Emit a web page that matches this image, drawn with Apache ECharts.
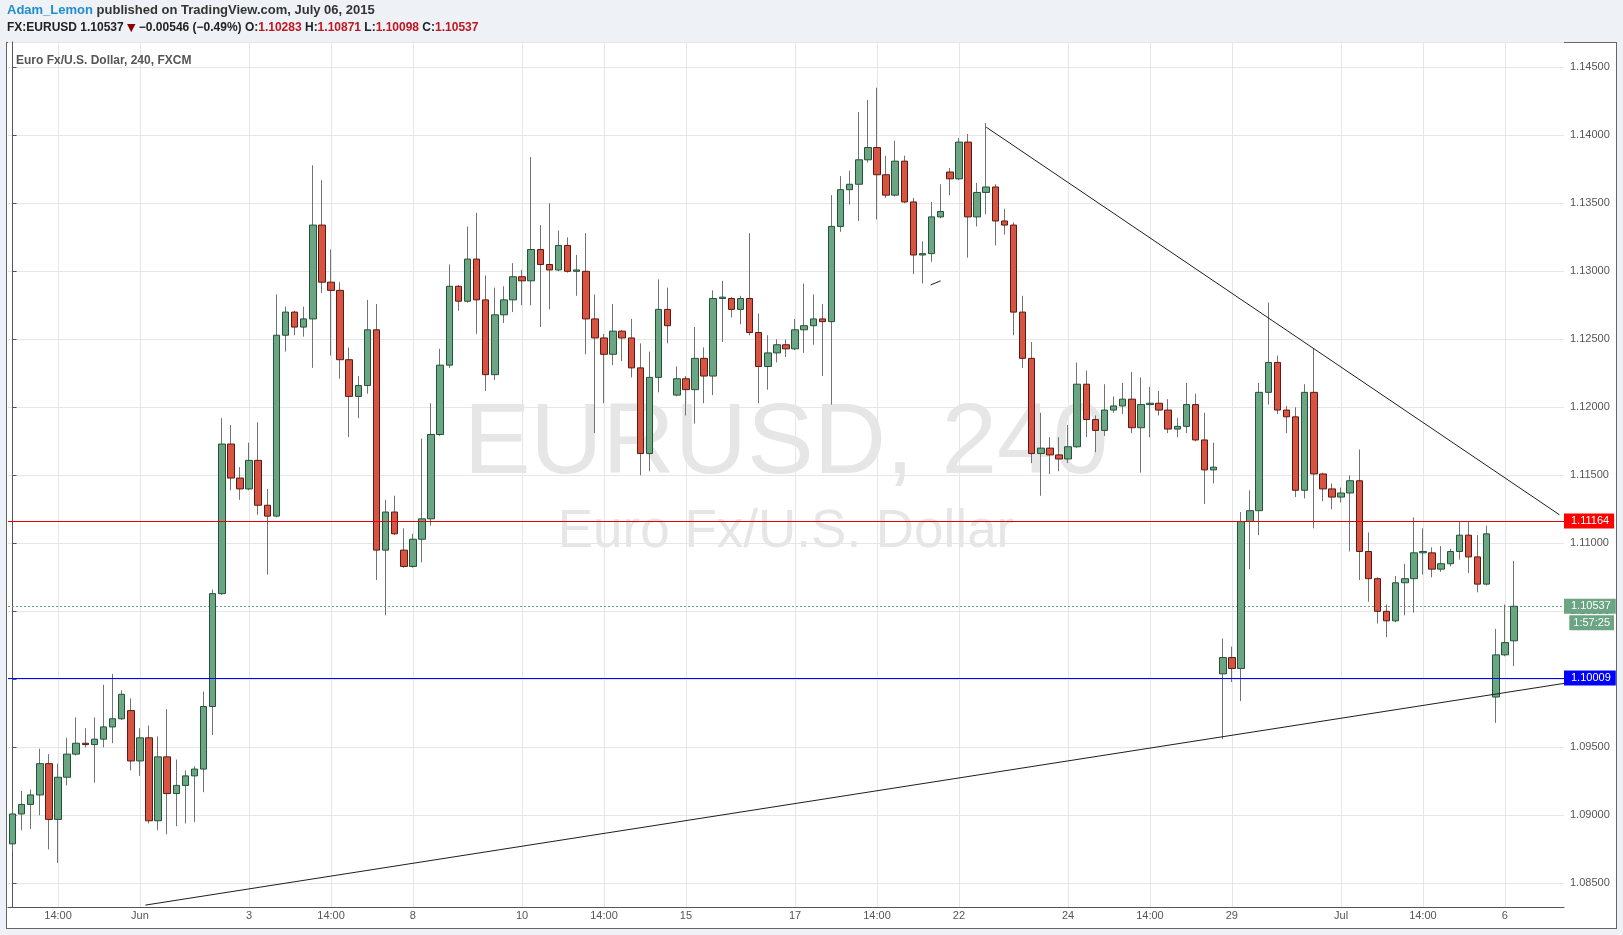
<!DOCTYPE html>
<html><head><meta charset="utf-8">
<script src="https://cdn.jsdelivr.net/npm/echarts@6/dist/echarts.min.js"></script>
<style>
html,body{margin:0;padding:0;background:#eef1f5;width:1623px;height:935px;overflow:hidden;}
#panel{position:absolute;left:6px;top:42px;width:1611px;height:887px;background:#fff;border:1px solid #666;box-sizing:border-box;}
#chart{position:absolute;left:0;top:0;width:1623px;height:935px;}
</style></head><body>
<div id="panel"></div>
<div id="chart"></div>
<script>
// ---- data: EUR/USD 4h candles (FXCM) ----
const opens = [
1.0879,1.0901,1.0908,1.0915,1.0938,1.0897,1.0928,1.0945,1.0953,1.0952,
1.0956,1.0965,1.0971,1.0977,1.0940,1.0957,1.0896,1.0943,1.0916,1.0922,
1.0929,1.0934,1.0980,1.1063,1.1173,1.1148,1.1140,1.1161,1.1128,1.1120,
1.1253,1.1270,1.1259,1.1265,1.1334,1.1292,1.1286,1.1235,1.1208,1.1216,
1.1257,1.1095,1.1123,1.1095,1.1083,1.1103,1.1118,1.1180,1.1231,1.1289,
1.1278,1.1309,1.1279,1.1224,1.1268,1.1279,1.1296,1.1293,1.1316,1.1305,
1.1301,1.1319,1.1300,1.1300,1.1265,1.1251,1.1239,1.1256,1.1251,1.1229,
1.1166,1.1222,1.1272,1.1209,1.1221,1.1213,1.1236,1.1223,1.1280,1.1280,
1.1272,1.1280,1.1255,1.1230,1.1240,1.1246,1.1243,1.1257,1.1260,1.1265,
1.1263,1.1333,1.1360,1.1364,1.1382,1.1391,1.1371,1.1356,1.1381,1.1351,
1.1312,1.1313,1.1340,1.1373,1.1368,1.1395,1.1340,1.1358,1.1362,1.1337,
1.1334,1.1270,1.1236,1.1166,1.1170,1.1165,1.1162,1.1171,1.1217,1.1191,
1.1183,1.1198,1.1201,1.1206,1.1185,1.1202,1.1203,1.1198,1.1184,1.1186,
1.1202,1.1176,1.1154,1.1004,1.1016,1.1008,1.1116,1.1124,1.1211,1.1233,
1.1198,1.1193,1.1139,1.1211,1.1151,1.1140,1.1134,1.1137,1.1146,1.1094,
1.1074,1.1050,1.1043,1.1071,1.1074,1.1093,1.1093,1.1081,1.1085,1.1094,
1.1106,1.1090,1.1070,1.0987,1.1018,1.10283];
const closes = [
1.0901,1.0908,1.0915,1.0938,1.0897,1.0928,1.0945,1.0953,1.0952,1.0956,
1.0965,1.0971,1.0989,1.0940,1.0957,1.0896,1.0943,1.0916,1.0922,1.0929,
1.0934,1.0980,1.1063,1.1173,1.1148,1.1140,1.1161,1.1128,1.1120,1.1253,
1.1270,1.1259,1.1265,1.1334,1.1292,1.1286,1.1235,1.1208,1.1216,1.1257,
1.1095,1.1123,1.1107,1.1083,1.1103,1.1118,1.1180,1.1231,1.1289,1.1278,
1.1309,1.1279,1.1224,1.1268,1.1279,1.1296,1.1293,1.1316,1.1305,1.1301,
1.1319,1.1300,1.1301,1.1265,1.1251,1.1239,1.1256,1.1251,1.1229,1.1166,
1.1222,1.1272,1.1260,1.1221,1.1213,1.1236,1.1223,1.1280,1.1281,1.1272,
1.1280,1.1255,1.1230,1.1240,1.1246,1.1243,1.1257,1.1260,1.1265,1.1263,
1.1333,1.1360,1.1364,1.1382,1.1391,1.1371,1.1356,1.1381,1.1351,1.1312,
1.1313,1.1340,1.1344,1.1368,1.1395,1.1340,1.1358,1.1362,1.1337,1.1334,
1.1270,1.1236,1.1166,1.1170,1.1165,1.1162,1.1171,1.1217,1.1191,1.1183,
1.1198,1.1201,1.1206,1.1185,1.1202,1.1203,1.1198,1.1184,1.1186,1.1202,
1.1176,1.1154,1.1156,1.1016,1.1008,1.1116,1.1124,1.1211,1.1233,1.1198,
1.1193,1.1139,1.1211,1.1151,1.1140,1.1134,1.1137,1.1146,1.1094,1.1074,
1.1050,1.1043,1.1071,1.1074,1.1093,1.1094,1.1081,1.1085,1.1094,1.1106,
1.1090,1.1070,1.1107,1.1018,1.1027,1.10537];
const highs = [
1.0905,1.0918,1.0919,1.0949,1.0945,1.0938,1.0957,1.0972,1.0964,1.0972,
1.0996,1.1004,1.0992,1.0986,1.0964,1.0966,1.0958,1.0978,1.0941,1.0933,
1.0936,1.0991,1.1066,1.1192,1.1187,1.1156,1.1174,1.1189,1.1140,1.1283,
1.1274,1.1271,1.1274,1.1378,1.1367,1.1316,1.1292,1.1244,1.1223,1.1279,
1.1276,1.1132,1.1135,1.1111,1.1107,1.1177,1.1203,1.1243,1.1305,1.1290,
1.1333,1.1343,1.1297,1.1288,1.1289,1.1306,1.1301,1.1384,1.1334,1.1350,
1.1330,1.1325,1.1312,1.1328,1.1283,1.1254,1.1276,1.1257,1.1265,1.1247,
1.1241,1.1294,1.1288,1.1230,1.1223,1.1259,1.1244,1.1286,1.1293,1.1281,
1.1282,1.1328,1.1269,1.1253,1.1250,1.1250,1.1265,1.1291,1.1283,1.1276,
1.1356,1.1370,1.1374,1.1417,1.1426,1.1435,1.1385,1.1396,1.1385,1.1354,
1.1322,1.1351,1.1364,1.1376,1.1398,1.1401,1.1365,1.1409,1.1364,1.1346,
1.1336,1.1282,1.1248,1.1196,1.1178,1.1178,1.1187,1.1233,1.1227,1.1194,
1.1217,1.1208,1.1218,1.1226,1.1222,1.1215,1.1212,1.1206,1.1192,1.1218,
1.1210,1.1196,1.1174,1.1030,1.1024,1.1123,1.1139,1.1218,1.1277,1.1238,
1.1201,1.1200,1.1217,1.1243,1.1152,1.1144,1.1141,1.1150,1.1169,1.1108,
1.1075,1.1055,1.1076,1.1085,1.1119,1.1111,1.1097,1.1098,1.1096,1.1116,
1.1116,1.1106,1.1113,1.1037,1.1055,1.10871];
const lows = [
1.0874,1.0889,1.0890,1.0900,1.0875,1.0865,1.0922,1.0944,1.0950,1.0924,
1.0950,1.0953,1.0970,1.0933,1.0929,1.0894,1.0889,1.0886,1.0892,1.0894,
1.0895,1.0917,1.0959,1.1062,1.1139,1.1132,1.1139,1.1121,1.1077,1.1119,
1.1241,1.1253,1.1252,1.1229,1.1284,1.1238,1.1221,1.1178,1.1192,1.1210,
1.1073,1.1047,1.1106,1.1082,1.1082,1.1086,1.1113,1.1179,1.1229,1.1271,
1.1277,1.1254,1.1212,1.1220,1.1262,1.1270,1.1275,1.1275,1.1259,1.1272,
1.1300,1.1299,1.1282,1.1239,1.1181,1.1203,1.1231,1.1234,1.1222,1.1150,
1.1153,1.1211,1.1247,1.1208,1.1194,1.1188,1.1203,1.1209,1.1248,1.1266,
1.1261,1.1253,1.1203,1.1213,1.1233,1.1237,1.1242,1.1240,1.1246,1.1223,
1.1202,1.1329,1.1349,1.1337,1.1380,1.1338,1.1354,1.1355,1.1350,1.1298,
1.1291,1.1307,1.1339,1.1356,1.1367,1.1310,1.1333,1.1342,1.1319,1.1327,
1.1253,1.1229,1.1159,1.1135,1.1151,1.1153,1.1159,1.1170,1.1178,1.1167,
1.1179,1.1196,1.1195,1.1181,1.1152,1.1178,1.1194,1.1181,1.1178,1.1181,
1.1175,1.1129,1.1144,1.0956,1.0998,1.0984,1.1081,1.1106,1.1202,1.1195,
1.1181,1.1134,1.1133,1.1111,1.1131,1.1125,1.1130,1.1094,1.1073,1.1057,
1.1041,1.1031,1.1042,1.1047,1.1049,1.1077,1.1075,1.1079,1.1083,1.1088,
1.1078,1.1064,1.1069,1.0968,1.1017,1.10098];

// x axis: candle slots (data + empty room on the right) and labelled slots
const slotCount = 171;
const tickIndex  = [5, 14, 26, 35, 44, 56, 65, 74, 86, 95, 104, 116, 125, 134, 146, 155, 164];
const tickLabels = ['14:00','Jun','3','14:00','8','10','14:00','15','17','14:00','22','24','14:00','29','Jul','14:00','6'];

// y axis range
const yMin = 1.08326, yMax = 1.14686;

// horizontal levels
const redLevel = 1.11164;
const blueLevel = 1.10009;
const lastPrice = 1.10537;
const countdown = '1:57:25';

// drawn trend lines: [slot position, price]
const trendDown = [[107.0, 1.1406], [170.0, 1.1121]];
const trendUp   = [[14.6, 1.0834], [170.5, 1.0997]];
const smallSeg  = [[100.9, 1.1290], [102.0, 1.1293]];

// ---- chart ----
const FONT = "'Liberation Sans', Arial, sans-serif";
const categories = Array.from({length: slotCount}, (_, i) => String(i));
const wickData = opens.map((o, i) => [o, closes[i], lows[i], highs[i]]);
const bodyData = opens.map((o, i) => [o, closes[i], Math.min(o, closes[i]), Math.max(o, closes[i])]);

const chart = echarts.init(document.getElementById('chart'));
const lineSeries = (data) => ({
  type: 'line', xAxisIndex: 1, yAxisIndex: 0, data: data, symbol: 'none',
  lineStyle: {color: '#1e1e1e', width: 1}, silent: true, z: 4
});
const levelLabel = (value, bg) => ({
  show: true, position: 'end', distance: 0, formatter: () => value.toFixed(5),
  backgroundColor: bg, color: '#fff', fontSize: 11, padding: [2, 5, 2, 7], fontFamily: FONT
});

chart.setOption({
  animation: false,
  textStyle: {fontFamily: FONT},
  title: [
    {left: 7, top: 4, padding: 0,
     text: '{u|Adam_Lemon}{n| published on TradingView.com, July 06, 2015}',
     textStyle: {rich: {
       u: {color: '#1f8dd0', fontSize: 13, fontFamily: FONT},
       n: {color: '#333', fontSize: 13, fontFamily: FONT}}}},
    {left: 7, top: 22, padding: 0,
     text: '{b|FX:EURUSD} {n|1.10537} {d|▼} {n|−0.00546 (−0.49%)} {b|O:}{r|1.10283} {b|H:}{r|1.10871} {b|L:}{r|1.10098} {b|C:}{r|1.10537}',
     textStyle: {fontSize: 12, rich: {
       b: {color: '#222', fontSize: 12, fontWeight: 'bold', fontFamily: FONT},
       n: {color: '#222', fontSize: 12, fontFamily: FONT},
       d: {color: '#8b0000', fontSize: 11, fontFamily: "'DejaVu Sans', sans-serif"},
       r: {color: '#c0161f', fontSize: 12, fontFamily: FONT}}}},
    {left: 16, top: 55, padding: 0, text: 'Euro Fx/U.S. Dollar, 240, FXCM',
     textStyle: {fontSize: 12, fontWeight: 'bold', color: '#555', fontFamily: FONT}}
  ],
  graphic: [
    {id: 'wm1', type: 'text', silent: true, z: -1, x: 786, y: 445,
     style: {text: 'EURUSD, 240', font: "100px " + FONT, fill: '#e6e6e6', textAlign: 'center', textVerticalAlign: 'middle'}},
    {id: 'wm2', type: 'text', silent: true, z: -1, x: 786, y: 532,
     style: {text: 'Euro Fx/U.S. Dollar', font: "53px " + FONT, fill: '#e6e6e6', textAlign: 'center', textVerticalAlign: 'middle'}}
  ],
  grid: {left: 8, right: 59, top: 42, bottom: 28},
  xAxis: [
    {type: 'category', data: categories, boundaryGap: true,
     axisLine: {show: true, lineStyle: {color: '#555'}},
     axisTick: {show: false}, splitLine: {show: false},
     axisLabel: {
       interval: (i) => tickIndex.indexOf(i) >= 0,
       formatter: (v, i) => tickLabels[tickIndex.indexOf(i)],
       color: '#555', fontSize: 11, margin: 3, fontFamily: FONT}},
    {type: 'value', min: -0.5, max: slotCount - 0.5, show: false}
  ],
  yAxis: {
    type: 'value', position: 'right', min: yMin, max: yMax, splitNumber: 13,
    axisLine: {show: true, lineStyle: {color: '#555'}},
    axisTick: {show: true, length: 4, lineStyle: {color: '#555'}},
    axisLabel: {formatter: (v) => v.toFixed(5), color: '#555', fontSize: 11, margin: 6,
                showMinLabel: false, showMaxLabel: false, fontFamily: FONT},
    splitLine: {show: true, lineStyle: {color: '#e6e6e6'}}
  },
  series: [
    {type: 'line', data: [], silent: true,
     markLine: {z: 1, silent: true, symbol: 'none', animation: false, precision: 0,
       label: {show: false},
       lineStyle: {color: '#e6e6e6', type: 'solid', width: 1},
       data: tickIndex.map(i => ({xAxis: i}))}},
    {type: 'line', data: [], silent: true, clip: false,
     markLine: {z: 1, silent: true, symbol: 'none', animation: false, precision: 5,
       data: [
         {yAxis: lastPrice, lineStyle: {color: '#6ba583', type: [2, 2], width: 1}, label: levelLabel(lastPrice, '#6ba583')}
       ]}},
    {type: 'candlestick', data: wickData, barWidth: 1, silent: true,
     itemStyle: {color: '#737375', color0: '#737375', borderColor: '#737375', borderColor0: '#737375', borderWidth: 1}},
    {type: 'candlestick', data: bodyData, barWidth: 7, silent: true,
     itemStyle: {color: '#6ba583', color0: '#d75442', borderColor: '#225437', borderColor0: '#5b1a13', borderWidth: 1}},
    lineSeries(trendDown),
    lineSeries(trendUp),
    lineSeries(smallSeg),
    {type: 'line', data: [], silent: true, clip: false,
     markLine: {z: 5, silent: true, symbol: 'none', animation: false, precision: 5,
       data: [
         {yAxis: redLevel, lineStyle: {color: '#e00000', type: 'solid', width: 1}, label: levelLabel(redLevel, '#ff0000')},
         {yAxis: blueLevel, lineStyle: {color: '#0000ff', type: 'solid', width: 1}, label: levelLabel(blueLevel, '#0000ff')}
       ]}}
  ]
});

// countdown box just under the last-price label, placed via the y axis scale
const yLast = chart.convertToPixel({yAxisIndex: 0}, lastPrice);
const xRight = chart.convertToPixel({xAxisIndex: 1}, slotCount - 0.5);
chart.setOption({
  graphic: [
    {id: 'countdown', type: 'text', silent: true, z: 10, x: xRight + 50, y: yLast + 16.5,
     style: {text: countdown, fill: '#fff', font: "11px " + FONT, backgroundColor: '#6ba583',
             padding: [2, 4, 2, 4], textAlign: 'right', textVerticalAlign: 'middle'}}
  ]
});
</script>
</body></html>
